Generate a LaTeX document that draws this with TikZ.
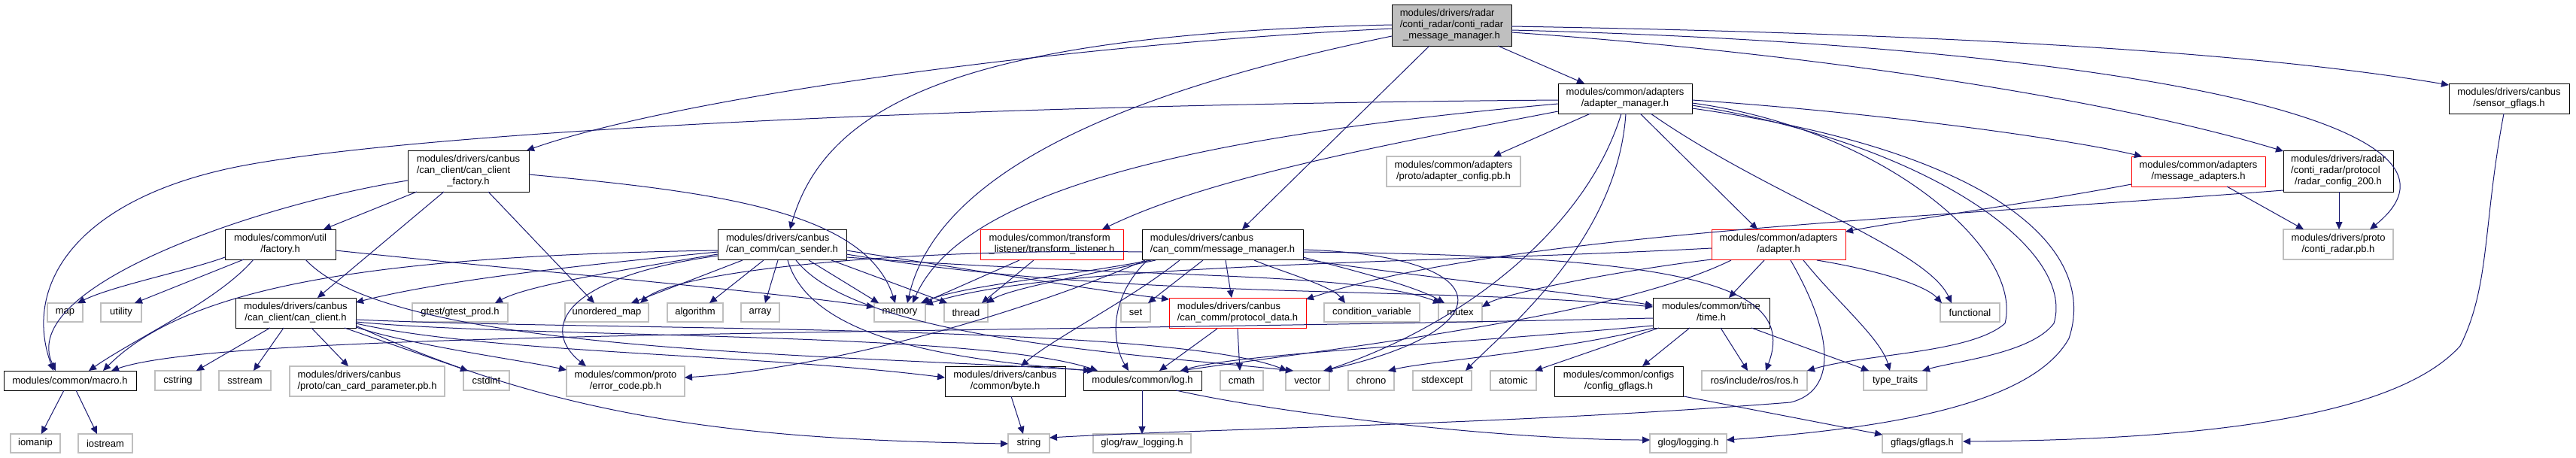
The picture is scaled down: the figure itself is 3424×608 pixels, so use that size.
\documentclass[tikz,border=0pt]{standalone}
\usepackage{fontspec}
\setmainfont{Liberation Sans}
\usetikzlibrary{arrows.meta}
\definecolor{edgec}{HTML}{191970}
\definecolor{gboxc}{HTML}{BFBFBF}
\newcommand{\lbl}[2]{\begin{tabular}{@{}l@{}}#1\\\multicolumn{1}{@{}c@{}}{#2}\end{tabular}}
\tikzset{
  boxbase/.style={rectangle, inner sep=0pt, outer sep=0pt, line width=1pt, align=center, font=\fontsize{13}{15}\selectfont},
  gbox/.style={boxbase, draw=gboxc, line width=1.2pt},
  bbox/.style={boxbase, draw=black},
  rbox/.style={boxbase, draw=red},
  rootbox/.style={boxbase, draw=black, fill=gboxc},
  edg/.style={draw=edgec, line width=1pt, -{Triangle[length=10pt,width=9pt]}},
}
\begin{document}
\begin{tikzpicture}[x=1pt,y=-1pt]
\useasboundingbox (0,0) rectangle (3424,608);
% nodes
\node[rootbox, minimum width=159pt, minimum height=55pt] (R) at (1929.5,33.5) {\lbl{modules/drivers/radar\\/conti\_radar/conti\_radar}{\_message\_manager.h}};
\node[bbox, minimum width=178pt, minimum height=40pt] (AM) at (2160,131) {\lbl{modules/common/adapters}{/adapter\_manager.h}};
\node[bbox, minimum width=160pt, minimum height=40pt] (SG) at (3335,131) {\lbl{modules/drivers/canbus}{/sensor\_gflags.h}};
\node[bbox, minimum width=161pt, minimum height=55pt] (CCF) at (622.5,227.5) {\lbl{modules/drivers/canbus\\/can\_client/can\_client}{\_factory.h}};
\node[gbox, minimum width=178pt, minimum height=40pt] (ACPB) at (1932,228) {\lbl{modules/common/adapters}{/proto/adapter\_config.pb.h}};
\node[rbox, minimum width=178pt, minimum height=40pt] (MA) at (2922,228) {\lbl{modules/common/adapters}{/message\_adapters.h}};
\node[bbox, minimum width=146pt, minimum height=55pt] (RC) at (3108,227.5) {\lbl{modules/drivers/radar\\/conti\_radar/protocol}{/radar\_config\_200.h}};
\node[bbox, minimum width=147pt, minimum height=40pt] (UF) at (372.5,325) {\lbl{modules/common/util}{/factory.h}};
\node[bbox, minimum width=171pt, minimum height=40pt] (CS) at (1039.5,325) {\lbl{modules/drivers/canbus}{/can\_comm/can\_sender.h}};
\node[rbox, minimum width=190pt, minimum height=40pt] (TL) at (1398,325) {\lbl{modules/common/transform}{\_listener/transform\_listener.h}};
\node[bbox, minimum width=214pt, minimum height=40pt] (MM) at (1625,325) {\lbl{modules/drivers/canbus}{/can\_comm/message\_manager.h}};
\node[rbox, minimum width=178pt, minimum height=40pt] (AD) at (2364,325) {\lbl{modules/common/adapters}{/adapter.h}};
\node[gbox, minimum width=146pt, minimum height=40pt] (CRPB) at (3108,325) {\lbl{modules/drivers/proto}{/conti\_radar.pb.h}};
\node[gbox, minimum width=47pt, minimum height=25pt] (map) at (86.5,415.5) {map};
\node[gbox, minimum width=54pt, minimum height=25pt] (utility) at (161,415.5) {utility};
\node[bbox, minimum width=160pt, minimum height=40pt] (CC) at (393,416) {\lbl{modules/drivers/canbus}{/can\_client/can\_client.h}};
\node[gbox, minimum width=127pt, minimum height=25pt] (gtest) at (611.5,415.5) {gtest/gtest\_prod.h};
\node[gbox, minimum width=111pt, minimum height=25pt] (umap) at (806.5,415.5) {unordered\_map};
\node[gbox, minimum width=74pt, minimum height=25pt] (algorithm) at (924,415.5) {algorithm};
\node[gbox, minimum width=51pt, minimum height=25pt] (array) at (1010.5,415.5) {array};
\node[gbox, minimum width=68pt, minimum height=25pt] (memory) at (1196,415.5) {memory};
\node[gbox, minimum width=58pt, minimum height=25pt] (thread) at (1284,415.5) {thread};
\node[gbox, minimum width=39pt, minimum height=25pt] (set) at (1509.5,415.5) {set};
\node[rbox, minimum width=182pt, minimum height=40pt] (PD) at (1645,416) {\lbl{modules/drivers/canbus}{/can\_comm/protocol\_data.h}};
\node[gbox, minimum width=127pt, minimum height=25pt] (condvar) at (1823.5,415.5) {condition\_variable};
\node[gbox, minimum width=58pt, minimum height=25pt] (mutex) at (1941,415.5) {mutex};
\node[bbox, minimum width=155pt, minimum height=40pt] (TIME) at (2274.5,416) {\lbl{modules/common/time}{/time.h}};
\node[gbox, minimum width=79pt, minimum height=25pt] (functional) at (2618.5,415.5) {functional};
\node[bbox, minimum width=176pt, minimum height=26pt] (macro) at (93,506) {modules/common/macro.h};
\node[gbox, minimum width=61pt, minimum height=26pt] (cstring) at (236.5,506) {cstring};
\node[gbox, minimum width=69pt, minimum height=26pt] (sstream) at (325.5,506) {sstream};
\node[gbox, minimum width=206pt, minimum height=40pt] (CCP) at (488,507) {\lbl{modules/drivers/canbus}{/proto/can\_card\_parameter.pb.h}};
\node[gbox, minimum width=61pt, minimum height=26pt] (cstdint) at (646.5,506) {cstdint};
\node[gbox, minimum width=157pt, minimum height=40pt] (EC) at (831.5,507) {\lbl{modules/common/proto}{/error\_code.pb.h}};
\node[bbox, minimum width=160pt, minimum height=40pt] (BYTE) at (1336,507) {\lbl{modules/drivers/canbus}{/common/byte.h}};
\node[bbox, minimum width=157pt, minimum height=26pt] (LOG) at (1518.5,506) {modules/common/log.h};
\node[gbox, minimum width=57pt, minimum height=26pt] (cmath) at (1650.5,506) {cmath};
\node[gbox, minimum width=58pt, minimum height=26pt] (vector) at (1738,506) {vector};
\node[gbox, minimum width=61pt, minimum height=26pt] (chrono) at (1822.5,506) {chrono};
\node[gbox, minimum width=78pt, minimum height=26pt] (stdexcept) at (1917,506) {stdexcept};
\node[gbox, minimum width=61pt, minimum height=26pt] (atomic) at (2011.5,506) {atomic};
\node[bbox, minimum width=171pt, minimum height=40pt] (CG) at (2151.5,507) {\lbl{modules/common/configs}{/config\_gflags.h}};
\node[gbox, minimum width=140pt, minimum height=26pt] (ROS) at (2332,506) {ros/include/ros/ros.h};
\node[gbox, minimum width=84pt, minimum height=26pt] (TT) at (2519,506) {type\_traits};
\node[gbox, minimum width=66pt, minimum height=25pt] (iomanip) at (47,589.5) {iomanip};
\node[gbox, minimum width=72pt, minimum height=25pt] (iostream) at (140,589.5) {iostream};
\node[gbox, minimum width=55pt, minimum height=25pt] (string) at (1367.5,589.5) {string};
\node[gbox, minimum width=130pt, minimum height=25pt] (rawlog) at (1518,589.5) {glog/raw\_logging.h};
\node[gbox, minimum width=102pt, minimum height=25pt] (glog) at (2244,589.5) {glog/logging.h};
\node[gbox, minimum width=106pt, minimum height=25pt] (gflags) at (2555,589.5) {gflags/gflags.h};
% edges from root
\draw[edg] ([shift={(0,32)}]R.north west) .. controls (1400,60) and (900,130) .. ([shift={(158,0)}]CCF.north west);
\draw[edg] ([shift={(0,27)}]R.north west) .. controls (1300,45) and (1100,130) .. ([shift={(96,0)}]CS.north west);
\draw[edg] ([shift={(0,42)}]R.north west) .. controls (1550,110) and (1250,210) .. ([shift={(44,0)}]memory.north west);
\draw[edg] ([shift={(50,55)}]R.north west) -- ([shift={(133,0)}]MM.north west);
\draw[edg] ([shift={(141,55)}]R.north west) -- ([shift={(35,0)}]AM.north west);
\draw[edg] ([shift={(159,29)}]R.north west) .. controls (2600,45) and (3000,70) .. ([shift={(0,2)}]SG.north west);
\draw[edg] ([shift={(159,37)}]R.north west) .. controls (2400,70) and (2800,130) .. ([shift={(0,1)}]RC.north west);
\draw[edg] ([shift={(159,34)}]R.north west) .. controls (2800,60) and (3330,160) .. ([shift={(115,0)}]CRPB.north west);
% can_client_factory
\draw[edg] ([shift={(0,40)}]CCF.north west) .. controls (350,270) and (20,380) .. ([shift={(69,0)}]macro.north west);
\draw[edg] ([shift={(12,55)}]CCF.north west) -- ([shift={(131,0)}]UF.north west);
\draw[edg] ([shift={(48,55)}]CCF.north west) -- ([shift={(109,0)}]CC.north west);
\draw[edg] ([shift={(107,55)}]CCF.north west) -- ([shift={(39,0)}]umap.north west);
\draw[edg] ([shift={(161,32)}]CCF.north west) .. controls (950,255) and (1150,280) .. ([shift={(28,0)}]memory.north west);
% util/factory
\draw[edg] ([shift={(0,37)}]UF.north west) .. controls (250,360) and (150,380) .. ([shift={(40,0)}]map.north west);
\draw[edg] ([shift={(25,40)}]UF.north west) -- ([shift={(45,0)}]utility.north west);
\draw[edg] ([shift={(38,40)}]UF.north west) .. controls (290,400) and (180,450) .. ([shift={(113,0)}]macro.north west);
\draw[edg] ([shift={(107,40)}]UF.north west) .. controls (520,470) and (1100,470) .. ([shift={(15,0)}]LOG.north west);
\draw[edg] ([shift={(147,28)}]UF.north west) .. controls (700,360) and (1000,385) .. ([shift={(0,5)}]memory.north west);
% can_client
\draw[edg] ([shift={(46,40)}]CC.north west) -- ([shift={(55,0)}]cstring.north west);
\draw[edg] ([shift={(64,40)}]CC.north west) -- ([shift={(46,0)}]sstream.north west);
\draw[edg] ([shift={(101,40)}]CC.north west) -- ([shift={(78,0)}]CCP.north west);
\draw[edg] ([shift={(145,40)}]CC.north west) -- ([shift={(6,0)}]cstdint.north west);
\draw[edg] ([shift={(160,39)}]CC.north west) .. controls (550,460) and (700,480) .. ([shift={(0,5)}]EC.north west);
\draw[edg] ([shift={(160,37)}]CC.north west) .. controls (750,560) and (1000,585) .. ([shift={(0,13)}]string.north west);
\draw[edg] ([shift={(160,34)}]CC.north west) .. controls (650,470) and (1000,470) .. ([shift={(0,15)}]BYTE.north west);
\draw[edg] ([shift={(160,32)}]CC.north west) .. controls (700,450) and (1300,440) .. ([shift={(19,0)}]LOG.north west);
\draw[edg] ([shift={(160,29)}]CC.north west) .. controls (800,440) and (1550,430) .. ([shift={(2,0)}]vector.north west);
% can_sender
\draw[edg] ([shift={(0,30)}]CS.north west) .. controls (800,350) and (600,370) .. ([shift={(160,6)}]CC.north west);
\draw[edg] ([shift={(0,33)}]CS.north west) .. controls (820,360) and (700,380) .. ([shift={(110,0)}]gtest.north west);
\draw[edg] ([shift={(33,41)}]CS.north west) -- ([shift={(88,0)}]umap.north west);
\draw[edg] ([shift={(0,28)}]CS.north west) .. controls (500,340) and (250,380) .. ([shift={(132,0)}]macro.north west);
\draw[edg] ([shift={(0,35)}]CS.north west) .. controls (740,370) and (720,440) .. ([shift={(26,0)}]EC.north west);
\draw[edg] ([shift={(61,41)}]CS.north west) -- ([shift={(56,0)}]algorithm.north west);
\draw[edg] ([shift={(80,41)}]CS.north west) -- ([shift={(32,0)}]array.north west);
\draw[edg] ([shift={(121,41)}]CS.north west) -- ([shift={(6,0)}]memory.north west);
\draw[edg] ([shift={(151,41)}]CS.north west) -- ([shift={(4,0)}]thread.north west);
\draw[edg] ([shift={(93,41)}]CS.north west) .. controls (1080,460) and (1300,480) .. ([shift={(10,0)}]LOG.north west);
\draw[edg] ([shift={(104,41)}]CS.north west) .. controls (1140,450) and (1500,470) .. ([shift={(10,0)}]vector.north west);
\draw[edg] ([shift={(171,28)}]CS.north west) .. controls (1300,360) and (1450,385) .. ([shift={(0,2)}]PD.north west);
\draw[edg] ([shift={(171,33)}]CS.north west) .. controls (1500,400) and (1900,380) .. ([shift={(0,12)}]TIME.north west);
\draw[edg] ([shift={(171,37)}]CS.north west) .. controls (1500,370) and (1800,360) .. ([shift={(3,0)}]mutex.north west);
% message_manager
\draw[edg] ([shift={(12,41)}]MM.north west) .. controls (1400,370) and (1280,380) .. ([shift={(62,0)}]memory.north west);
\draw[edg] ([shift={(18,41)}]MM.north west) .. controls (1420,370) and (1340,385) .. ([shift={(56,0)}]thread.north west);
\draw[edg] ([shift={(0,30)}]MM.north west) .. controls (1200,330) and (900,360) .. ([shift={(100,0)}]umap.north west);
\draw[edg] ([shift={(4,41)}]MM.north west) .. controls (1350,420) and (1100,490) .. ([shift={(157,15)}]EC.north west);
\draw[edg] ([shift={(50,41)}]MM.north west) .. controls (1500,400) and (1400,450) .. ([shift={(101,0)}]BYTE.north west);
\draw[edg] ([shift={(81,41)}]MM.north west) -- ([shift={(36,0)}]set.north west);
\draw[edg] ([shift={(111,41)}]MM.north west) -- ([shift={(83,0)}]PD.north west);
\draw[edg] ([shift={(7,41)}]MM.north west) .. controls (1470,400) and (1480,460) .. ([shift={(60,0)}]LOG.north west);
\draw[edg] ([shift={(149,41)}]MM.north west) .. controls (1700,360) and (1770,380) .. ([shift={(28,0)}]condvar.north west);
\draw[edg] ([shift={(214,37)}]MM.north west) .. controls (1800,360) and (1880,380) .. ([shift={(8,0)}]mutex.north west);
\draw[edg] ([shift={(214,40)}]MM.north west) .. controls (1900,370) and (2100,390) .. ([shift={(0,10)}]TIME.north west);
\draw[edg] ([shift={(214,27)}]MM.north west) .. controls (2000,340) and (2000,440) .. ([shift={(50,0)}]vector.north west);
\draw[edg] ([shift={(214,30)}]MM.north west) .. controls (2250,340) and (2390,380) .. ([shift={(85,0)}]ROS.north west);
% transform listener
\draw[edg] ([shift={(52,41)}]TL.north west) -- ([shift={(64,0)}]memory.north west);
\draw[edg] ([shift={(71,41)}]TL.north west) -- ([shift={(50,0)}]thread.north west);
% protocol data, byte, log
\draw[edg] ([shift={(64,41)}]PD.north west) -- ([shift={(101,0)}]LOG.north west);
\draw[edg] ([shift={(91,41)}]PD.north west) -- ([shift={(26,0)}]cmath.north west);
\draw[edg] ([shift={(88,40)}]BYTE.north west) -- ([shift={(20,0)}]string.north west);
\draw[edg] ([shift={(78,26)}]LOG.north west) -- ([shift={(65,0)}]rawlog.north west);
\draw[edg] ([shift={(123,26)}]LOG.north west) .. controls (1700,550) and (2000,585) .. ([shift={(0,8)}]glog.north west);
% gflags
\draw[edg] ([shift={(172,40)}]CG.north west) -- ([shift={(0,1)}]gflags.north west);
\draw[edg] ([shift={(73,40)}]SG.north west) .. controls (3300,300) and (3310,380) .. (3270,460) .. controls (3180,560) and (2900,585) .. ([shift={(107,10)}]gflags.north west);
% message adapters, radar config
\draw[edg] ([shift={(0,37)}]MA.north west) .. controls (2700,270) and (2550,290) .. ([shift={(178,3)}]AD.north west);
\draw[edg] ([shift={(127,40)}]MA.north west) -- ([shift={(27,0)}]CRPB.north west);
\draw[edg] ([shift={(74,55)}]RC.north west) -- ([shift={(74,0)}]CRPB.north west);
\draw[edg] ([shift={(0,53)}]RC.north west) .. controls (2560,290) and (2000,310) .. ([shift={(182,2)}]PD.north west);
% adapter.h
\draw[edg] ([shift={(0,25)}]AD.north west) .. controls (1900,350) and (1400,350) .. ([shift={(68,2)}]memory.north west);
\draw[edg] ([shift={(0,40)}]AD.north west) .. controls (2150,360) and (2000,390) .. ([shift={(58,5)}]mutex.north west);
\draw[edg] ([shift={(26,41)}]AD.north west) .. controls (2150,420) and (1800,460) .. ([shift={(129,0)}]LOG.north west);
\draw[edg] ([shift={(70,41)}]AD.north west) -- ([shift={(101,0)}]TIME.north west);
\draw[edg] ([shift={(105,41)}]AD.north west) .. controls (2440,450) and (2440,520) .. (2380,535) .. controls (2000,565) and (1600,570) .. ([shift={(55,5)}]string.north west);
\draw[edg] ([shift={(122,41)}]AD.north west) .. controls (2440,400) and (2500,450) .. ([shift={(35,0)}]TT.north west);
\draw[edg] ([shift={(140,41)}]AD.north west) .. controls (2500,360) and (2560,380) .. ([shift={(2,0)}]functional.north west);
% adapter manager
\draw[edg] ([shift={(123,40)}]AM.north west) .. controls (2350,260) and (2560,330) .. ([shift={(15,0)}]functional.north west);
\draw[edg] ([shift={(0,22)}]AM.north west) .. controls (1200,140) and (500,180) .. (300,225) .. controls (100,270) and (30,380) .. ([shift={(66,0)}]macro.north west);
\draw[edg] ([shift={(0,27)}]AM.north west) .. controls (1600,180) and (1280,250) .. ([shift={(51,0)}]memory.north west);
\draw[edg] ([shift={(0,37)}]AM.north west) .. controls (1800,200) and (1600,240) .. ([shift={(162,0)}]TL.north west);
\draw[edg] ([shift={(43,40)}]AM.north west) -- ([shift={(142,0)}]ACPB.north west);
\draw[edg] ([shift={(109,40)}]AM.north west) -- ([shift={(61,0)}]AD.north west);
\draw[edg] ([shift={(178,22)}]AM.north west) .. controls (2500,150) and (2750,185) .. ([shift={(14,0)}]MA.north west);
\draw[edg] ([shift={(178,26)}]AM.north west) .. controls (2500,170) and (2690,330) .. (2665,430) .. controls (2620,470) and (2480,470) .. ([shift={(140,0)}]ROS.north west);
\draw[edg] ([shift={(178,29)}]AM.north west) .. controls (2560,190) and (2760,330) .. (2730,430) .. controls (2700,470) and (2600,480) .. ([shift={(78,0)}]TT.north west);
\draw[edg] ([shift={(178,33)}]AM.north west) .. controls (2650,200) and (2790,330) .. (2750,450) .. controls (2700,540) and (2500,570) .. ([shift={(102,8)}]glog.north west);
\draw[edg] ([shift={(84,40)}]AM.north west) .. controls (2110,300) and (1950,430) .. ([shift={(52,0)}]vector.north west);
\draw[edg] ([shift={(90,40)}]AM.north west) .. controls (2150,320) and (2000,440) .. ([shift={(70,0)}]stdexcept.north west);
% time.h
\draw[edg] ([shift={(0,27)}]TIME.north west) .. controls (1200,445) and (300,440) .. ([shift={(143,0)}]macro.north west);
\draw[edg] ([shift={(0,37)}]TIME.north west) .. controls (1900,460) and (1650,470) .. ([shift={(129,0)}]LOG.north west);
\draw[edg] ([shift={(2,40)}]TIME.north west) .. controls (2050,470) and (1900,480) .. ([shift={(53,0)}]chrono.north west);
\draw[edg] ([shift={(8,40)}]TIME.north west) -- ([shift={(59,0)}]atomic.north west);
\draw[edg] ([shift={(49,40)}]TIME.north west) -- ([shift={(117,0)}]CG.north west);
\draw[edg] ([shift={(90,40)}]TIME.north west) -- ([shift={(61,0)}]ROS.north west);
\draw[edg] ([shift={(131,40)}]TIME.north west) -- ([shift={(7,0)}]TT.north west);
% macro
\draw[edg] ([shift={(80,26)}]macro.north west) -- ([shift={(41,0)}]iomanip.north west);
\draw[edg] ([shift={(96,26)}]macro.north west) -- ([shift={(25,0)}]iostream.north west);
\end{tikzpicture}
\end{document}
